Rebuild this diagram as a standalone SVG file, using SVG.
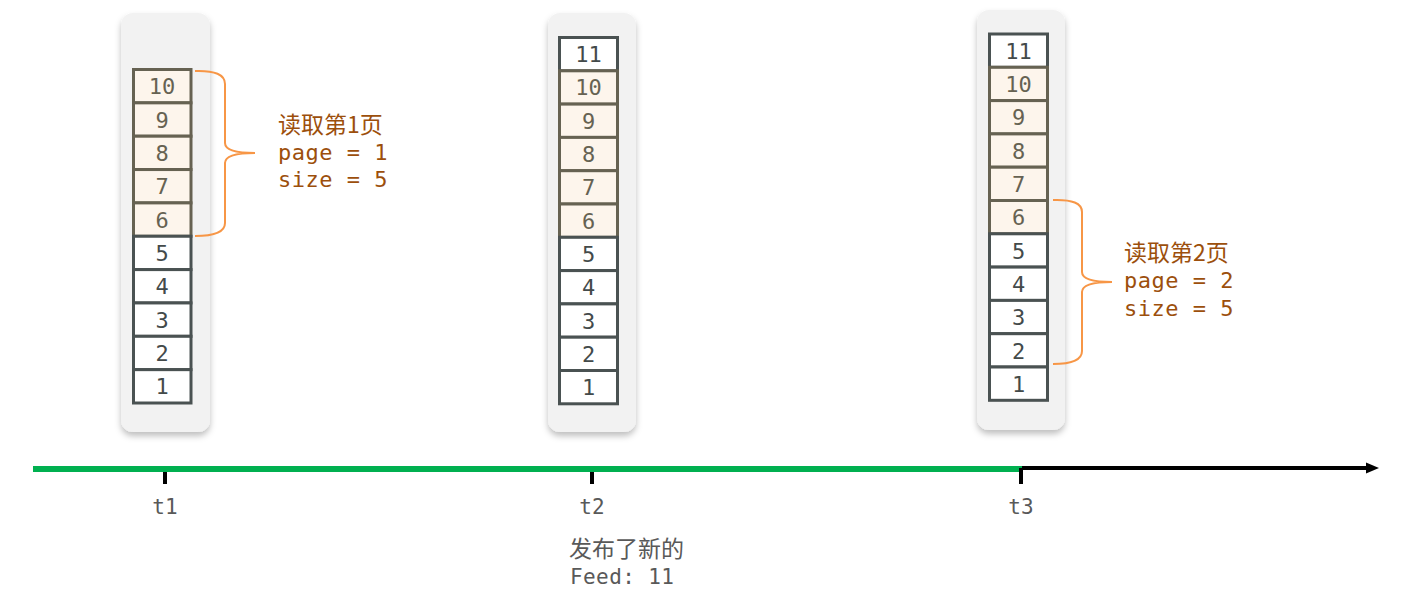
<svg xmlns="http://www.w3.org/2000/svg" width="1423" height="589" viewBox="0 0 1423 589">
<style>
.panel{fill:#f2f2f2}
.cw{fill:#ffffff;stroke:#4a5252;stroke-width:3}
.cc{fill:#fdf5ec;stroke:#666252;stroke-width:3}
.nw{font-family:"DejaVu Sans Mono","Liberation Mono",monospace;font-size:22px;fill:#434a4a;text-anchor:middle}
.nc{font-family:"DejaVu Sans Mono","Liberation Mono",monospace;font-size:22px;fill:#666252;text-anchor:middle}
.brace{fill:none;stroke:#f79646;stroke-width:2}
.lbl{font-family:"DejaVu Sans Mono","Noto Sans CJK SC",monospace;font-size:22px;fill:#9c4f0c;letter-spacing:0.5px}
.cjk{font-family:"Noto Sans CJK SC","Noto Sans",sans-serif;font-size:23px;fill:#9c4f0c}
.tl{font-family:"DejaVu Sans Mono","Liberation Mono",monospace;font-size:21px;fill:#595959;text-anchor:middle}
.note{font-family:"Noto Sans CJK SC","Noto Sans",sans-serif;font-size:23px;fill:#595959}
.notem{font-family:"DejaVu Sans Mono","Liberation Mono",monospace;font-size:21px;fill:#595959;letter-spacing:0.4px}
</style>
<defs>
<filter id="sh" x="-30%" y="-10%" width="160%" height="120%">
<feDropShadow dx="0" dy="4" stdDeviation="3" flood-color="#000" flood-opacity="0.25"/>
</filter>
</defs>

<g id="panel-t1">
<rect class="panel" x="121" y="13" width="89" height="419" rx="12" filter="url(#sh)"/>
<rect class="cc" x="133.5" y="69.5" width="57.5" height="33.35"/><text class="nc" x="162" y="94">10</text>
<rect class="cc" x="133.5" y="102.85" width="57.5" height="33.35"/><text class="nc" x="162" y="127.5">9</text>
<rect class="cc" x="133.5" y="136.2" width="57.5" height="33.35"/><text class="nc" x="162" y="161">8</text>
<rect class="cc" x="133.5" y="169.55" width="57.5" height="33.35"/><text class="nc" x="162" y="194">7</text>
<rect class="cc" x="133.5" y="202.9" width="57.5" height="33.35"/><text class="nc" x="162" y="227.5">6</text>
<rect class="cw" x="133.5" y="236.25" width="57.5" height="33.35"/><text class="nw" x="162" y="261">5</text>
<rect class="cw" x="133.5" y="269.6" width="57.5" height="33.35"/><text class="nw" x="162" y="294">4</text>
<rect class="cw" x="133.5" y="302.95" width="57.5" height="33.35"/><text class="nw" x="162" y="327.5">3</text>
<rect class="cw" x="133.5" y="336.3" width="57.5" height="33.35"/><text class="nw" x="162" y="361">2</text>
<rect class="cw" x="133.5" y="369.65" width="57.5" height="33.35"/><text class="nw" x="162" y="394">1</text>
</g>

<g id="panel-t2">
<rect class="panel" x="548" y="13" width="88" height="419" rx="12" filter="url(#sh)"/>
<rect class="cw" x="559.5" y="37.5" width="58" height="33.3"/><text class="nw" x="588.5" y="62">11</text>
<rect class="cc" x="559.5" y="70.8" width="58" height="33.3"/><text class="nc" x="588.5" y="95">10</text>
<rect class="cc" x="559.5" y="104.1" width="58" height="33.3"/><text class="nc" x="588.5" y="128.5">9</text>
<rect class="cc" x="559.5" y="137.4" width="58" height="33.3"/><text class="nc" x="588.5" y="162">8</text>
<rect class="cc" x="559.5" y="170.7" width="58" height="33.3"/><text class="nc" x="588.5" y="195">7</text>
<rect class="cc" x="559.5" y="204" width="58" height="33.3"/><text class="nc" x="588.5" y="228.5">6</text>
<rect class="cw" x="559.5" y="237.3" width="58" height="33.3"/><text class="nw" x="588.5" y="262">5</text>
<rect class="cw" x="559.5" y="270.6" width="58" height="33.3"/><text class="nw" x="588.5" y="295">4</text>
<rect class="cw" x="559.5" y="303.9" width="58" height="33.3"/><text class="nw" x="588.5" y="328.5">3</text>
<rect class="cw" x="559.5" y="337.2" width="58" height="33.3"/><text class="nw" x="588.5" y="362">2</text>
<rect class="cw" x="559.5" y="370.5" width="58" height="33.3"/><text class="nw" x="588.5" y="395">1</text>
</g>

<g id="panel-t3">
<rect class="panel" x="977" y="10" width="88" height="420" rx="12" filter="url(#sh)"/>
<rect class="cw" x="989.5" y="34" width="58" height="33.3"/><text class="nw" x="1018.5" y="58.5">11</text>
<rect class="cc" x="989.5" y="67.3" width="58" height="33.3"/><text class="nc" x="1018.5" y="92">10</text>
<rect class="cc" x="989.5" y="100.6" width="58" height="33.3"/><text class="nc" x="1018.5" y="125">9</text>
<rect class="cc" x="989.5" y="133.9" width="58" height="33.3"/><text class="nc" x="1018.5" y="158.5">8</text>
<rect class="cc" x="989.5" y="167.2" width="58" height="33.3"/><text class="nc" x="1018.5" y="192">7</text>
<rect class="cc" x="989.5" y="200.5" width="58" height="33.3"/><text class="nc" x="1018.5" y="225">6</text>
<rect class="cw" x="989.5" y="233.8" width="58" height="33.3"/><text class="nw" x="1018.5" y="258.5">5</text>
<rect class="cw" x="989.5" y="267.1" width="58" height="33.3"/><text class="nw" x="1018.5" y="292">4</text>
<rect class="cw" x="989.5" y="300.4" width="58" height="33.3"/><text class="nw" x="1018.5" y="325">3</text>
<rect class="cw" x="989.5" y="333.7" width="58" height="33.3"/><text class="nw" x="1018.5" y="358.5">2</text>
<rect class="cw" x="989.5" y="367" width="58" height="33.3"/><text class="nw" x="1018.5" y="391.5">1</text>
</g>

<g id="brace-page1">
<path class="brace" d="M195,71 Q225,70 225,84 L225,143 Q225,153 255,153 Q225,153 225,163 L225,223 Q225,236 195,236"/>
<text class="cjk" x="278" y="133">读取第1页</text>
<text class="lbl" x="278" y="160">page = 1</text>
<text class="lbl" x="278" y="187">size = 5</text>
</g>

<g id="brace-page2">
<path class="brace" d="M1053,200 Q1082,199 1082,212 L1082,272 Q1082,282 1112,282 Q1082,282 1082,292 L1082,351 Q1082,364 1053,364"/>
<text class="cjk" x="1124" y="261">读取第2页</text>
<text class="lbl" x="1124" y="288">page = 2</text>
<text class="lbl" x="1124" y="316">size = 5</text>
</g>

<g id="connectors">
<line x1="1020" y1="468" x2="1368" y2="468" stroke="#000" stroke-width="4"/>
<path d="M1366,462.5 L1379,468 L1366,473.5 Z" fill="#000"/>
<line x1="33" y1="469" x2="1022" y2="469" stroke="#00b050" stroke-width="6"/>
<line x1="165" y1="472" x2="165" y2="484" stroke="#000" stroke-width="4"/>
<line x1="592" y1="472" x2="592" y2="484" stroke="#000" stroke-width="4"/>
<line x1="1021" y1="468" x2="1021" y2="484" stroke="#000" stroke-width="4"/>
</g>

<g id="timeline-labels">
<text class="tl" x="165" y="514">t1</text>
<text class="tl" x="592" y="514">t2</text>
<text class="tl" x="1021" y="514">t3</text>
<text class="note" x="569" y="557">发布了新的</text>
<text class="notem" x="570" y="584">Feed: 11</text>
</g>
</svg>
